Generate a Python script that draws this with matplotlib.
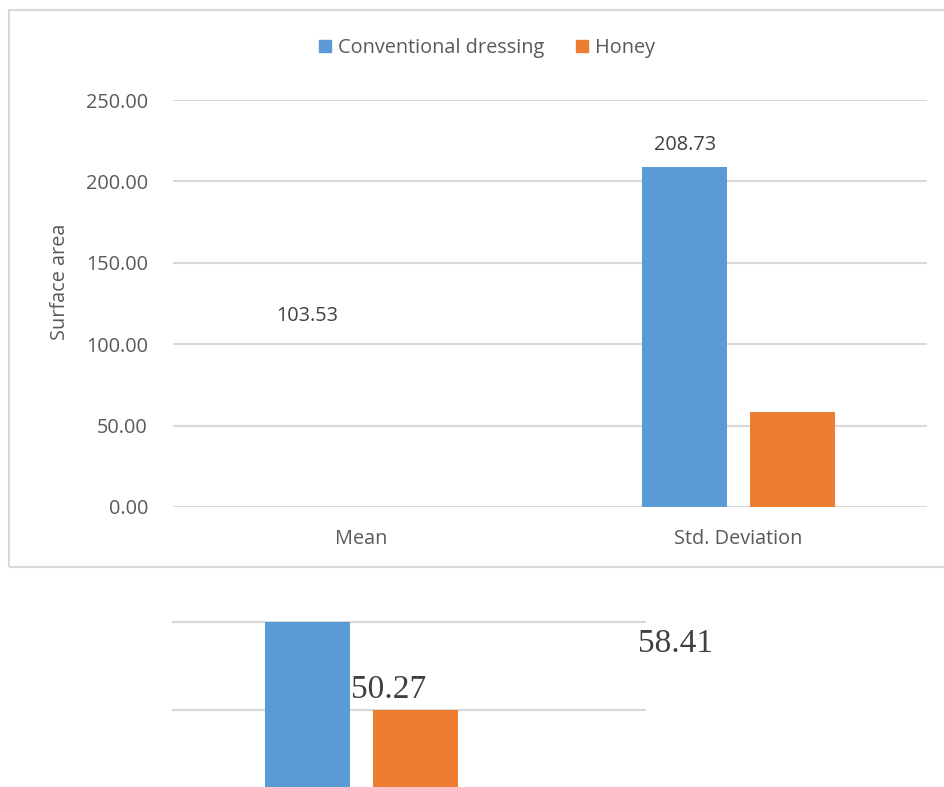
import matplotlib.pyplot as plt
from matplotlib.patches import Rectangle

# Wound surface area statistics per dressing type
categories = ["Mean", "Std. Deviation"]
conventional = [103.53, 208.73]
honey = [50.27, 58.41]
series_names = ["Conventional dressing", "Honey"]
y_ticks = [0, 50, 100, 150, 200, 250]

BLUE = "#5B9BD5"
ORANGE = "#ED7D31"
GRID = "#D9D9D9"
TEXT = "#595959"
LABEL = "#404040"
FS = 14.3

plt.rcParams["font.family"] = ["Open Sans", "DejaVu Sans"]

W, H = 944, 787
fig = plt.figure(figsize=(W / 100, H / 100), dpi=100)


def fig_box(x0, y0, x1, y1):
    # pixel box (top-left origin) -> figure fraction rect
    return [x0 / W, 1 - y1 / H, (x1 - x0) / W, (y1 - y0) / H]


# chart border
fig.patches.append(Rectangle((9 / W, 1 - 567 / H), 1.0, (567 - 10) / H,
                             transform=fig.transFigure, fill=False,
                             edgecolor=GRID, linewidth=1.5))

width = 0.225
offset = 0.143
x = list(range(len(categories)))

# main plot area
ax = fig.add_axes(fig_box(173, 100, 927, 507))
ax.set_xlim(-0.5, 1.5)
ax.set_ylim(0, 250)
ax.bar([x[1] - offset], [conventional[1]], width, color=BLUE, zorder=2)
ax.bar([x[1] + offset], [honey[1]], width, color=ORANGE, zorder=2)
for i in range(len(categories)):
    ax.annotate(f"{conventional[i]:.2f}", (x[i] - offset, conventional[i]),
                xytext=(0, 16), textcoords="offset points",
                ha="center", va="center", fontsize=FS, color=LABEL)

ax.set_yticks(y_ticks)
ax.set_yticklabels([f"{v:.2f}" for v in y_ticks])
ax.set_xticks(x)
ax.set_xticklabels(categories)
ax.tick_params(axis="y", length=0, pad=18, labelsize=FS, labelcolor=TEXT)
ax.tick_params(axis="x", length=0, pad=16, labelsize=FS, labelcolor=TEXT)
ax.yaxis.grid(True, color=GRID, linewidth=1.5, zorder=0)
ax.set_axisbelow(True)
for s in ax.spines.values():
    s.set_visible(False)

fig.text(60 / W, 1 - 282 / H, "Surface area", rotation=90, ha="center",
         va="center", fontsize=FS, color=TEXT)

handles = [Rectangle((0, 0), 1, 1, color=BLUE), Rectangle((0, 0), 1, 1, color=ORANGE)]
fig.legend(handles, series_names, loc="center", bbox_to_anchor=(487 / W, 1 - 48 / H),
           ncol=2, frameon=False, fontsize=FS, labelcolor=TEXT,
           handlelength=0.6, handleheight=0.6, handletextpad=0.35,
           columnspacing=1.6)

# stray fragment of the plot area below the border
ax2 = fig.add_axes(fig_box(173, 622, 645, 787))
ax2.set_xlim(-0.5, (645 - 173) / 377 - 0.5)
ax2.set_ylim(100 - (787 - 622) / 88 * 50, 100)
ax2.bar([x[0] - offset], [conventional[0]], width, color=BLUE, zorder=2)
ax2.bar([x[0] + offset], [honey[0]], width, color=ORANGE, zorder=2)
for v in [50, 100]:
    ax2.axhline(v, color=GRID, linewidth=1.5, zorder=0, clip_on=False)
ax2.annotate(f"{honey[0]:.2f}", (x[0] + offset, honey[0]),
             xytext=(-19, 14.5), textcoords="offset points", ha="center",
             va="center", fontsize=24, color=LABEL, family="Liberation Serif",
             annotation_clip=False)
ax2.annotate(f"{honey[1]:.2f}", (x[1] + offset, honey[1]),
             xytext=(-84, 37), textcoords="offset points", ha="center",
             va="center", fontsize=24, color=LABEL, family="Liberation Serif",
             annotation_clip=False)
ax2.axis("off")

fig.savefig("out.png", dpi=100)
